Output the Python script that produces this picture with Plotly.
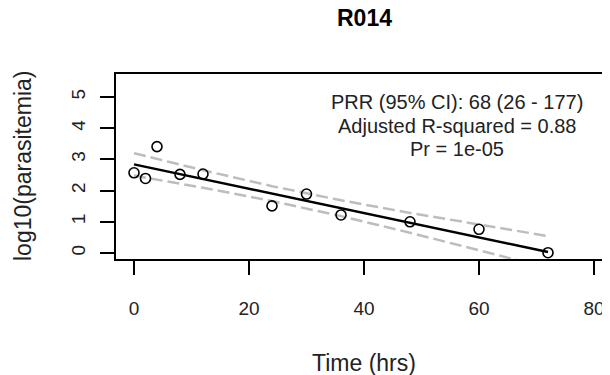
import numpy as np
import plotly.graph_objects as go

# Data
time_hrs = [0, 2, 4, 8, 12, 24, 30, 36, 48, 60, 72]
log10_para = [2.57, 2.39, 3.41, 2.52, 2.53, 1.51, 1.89, 1.22, 1.00, 0.76, 0.01]

# Fitted regression line
fit_intercept = 2.84
fit_slope = -0.0390
t_crit = 2.262  # t(0.975, df=9)

x_ticks = [0, 20, 40, 60, 80]
y_ticks = [0, 1, 2, 3, 4, 5]

title_text = "R014"
x_title = "Time (hrs)"
y_title = "log10(parasitemia)"
stat_lines = ["PRR (95% CI): 68 (26 - 177)",
              "Adjusted R-squared = 0.88",
              "Pr = 1e-05"]

x = np.array(time_hrs, dtype=float)
y = np.array(log10_para, dtype=float)
fit = fit_intercept + fit_slope * x
resid = y - fit
n = len(x)
s = np.sqrt(np.sum(resid ** 2) / (n - 2))
sxx = np.sum((x - x.mean()) ** 2)
hw = t_crit * s * np.sqrt(1.0 / n + (x - x.mean()) ** 2 / sxx)
upper = fit + hw
lower = fit - hw

FONT = "Liberation Sans, Arial, sans-serif"
fig = go.Figure()

band_style = dict(color="#BDBDBD", width=2.5, dash="12px,5px")
fig.add_trace(go.Scatter(x=x, y=upper, mode="lines", line=band_style, showlegend=False))
fig.add_trace(go.Scatter(x=x, y=lower, mode="lines", line=band_style, showlegend=False))
fig.add_trace(go.Scatter(x=x, y=fit, mode="lines",
                         line=dict(color="black", width=2.5), showlegend=False))
fig.add_trace(go.Scatter(x=x, y=y, mode="markers",
                         marker=dict(symbol="circle-open", size=10, color="black",
                                     line=dict(width=1.6, color="black")),
                         showlegend=False))

# page offset of the figure inside the browser window (body margin)
OFF = 8
W, H = 610, 375
L, T = 116 - OFF, 74 - OFF
B = H - (259 - OFF)
px_per_hr = 5.75
x0_px = 134 - OFF
px_per_unit = 31.2
y0_px = 253 - OFF

x_lo = (L - x0_px) / px_per_hr
x_hi = x_lo + (W - L) / px_per_hr
y_hi = (y0_px - T) / px_per_unit
y_lo = (y0_px - (H - B)) / px_per_unit

fig.update_xaxes(range=[x_lo, x_hi], tickvals=x_ticks, ticktext=[str(v) for v in x_ticks],
                 showline=True, linecolor="black", linewidth=1.5, mirror=True,
                 ticks="outside", ticklen=14, tickwidth=1.5, tickcolor="black",
                 showgrid=False, zeroline=False,
                 tickfont=dict(family=FONT, size=19, color="#222"),
                 ticklabelstandoff=17)
fig.update_yaxes(range=[y_lo, y_hi], tickvals=y_ticks, ticktext=[str(v) for v in y_ticks],
                 showline=True, linecolor="black", linewidth=1.5, mirror=False,
                 ticks="outside", ticklen=14, tickwidth=1.5, tickcolor="black",
                 showgrid=False, zeroline=False, tickangle=-90,
                 tickfont=dict(family=FONT, size=19, color="#222"),
                 ticklabelstandoff=8)

pw = W - L
ph = H - T - B

def px_to_paper_x(px):
    return (px - OFF - L) / pw

def px_to_paper_y(py):
    return (H - B - (py - OFF)) / ph

annotations = [
    dict(text="<b>" + title_text + "</b>", x=px_to_paper_x(364), y=px_to_paper_y(18),
         font=dict(family=FONT, size=23, color="black")),
    dict(text=x_title, x=px_to_paper_x(364), y=px_to_paper_y(363),
         font=dict(family=FONT, size=23, color="#222")),
    dict(text=y_title, x=px_to_paper_x(23), y=px_to_paper_y(166), textangle=-90,
         font=dict(family=FONT, size=23, color="#222")),
]
for line_txt, py in zip(stat_lines, [102, 126, 149]):
    annotations.append(dict(text=line_txt, x=px_to_paper_x(457), y=px_to_paper_y(py),
                            font=dict(family=FONT, size=20, color="#222")))
for a in annotations:
    a.update(xref="paper", yref="paper", xanchor="center", yanchor="middle",
             showarrow=False)

fig.update_layout(width=W, height=H, margin=dict(l=L, r=0, t=T, b=B, pad=0),
                  paper_bgcolor="white", plot_bgcolor="white",
                  annotations=annotations)

fig.write_html("out.html")
